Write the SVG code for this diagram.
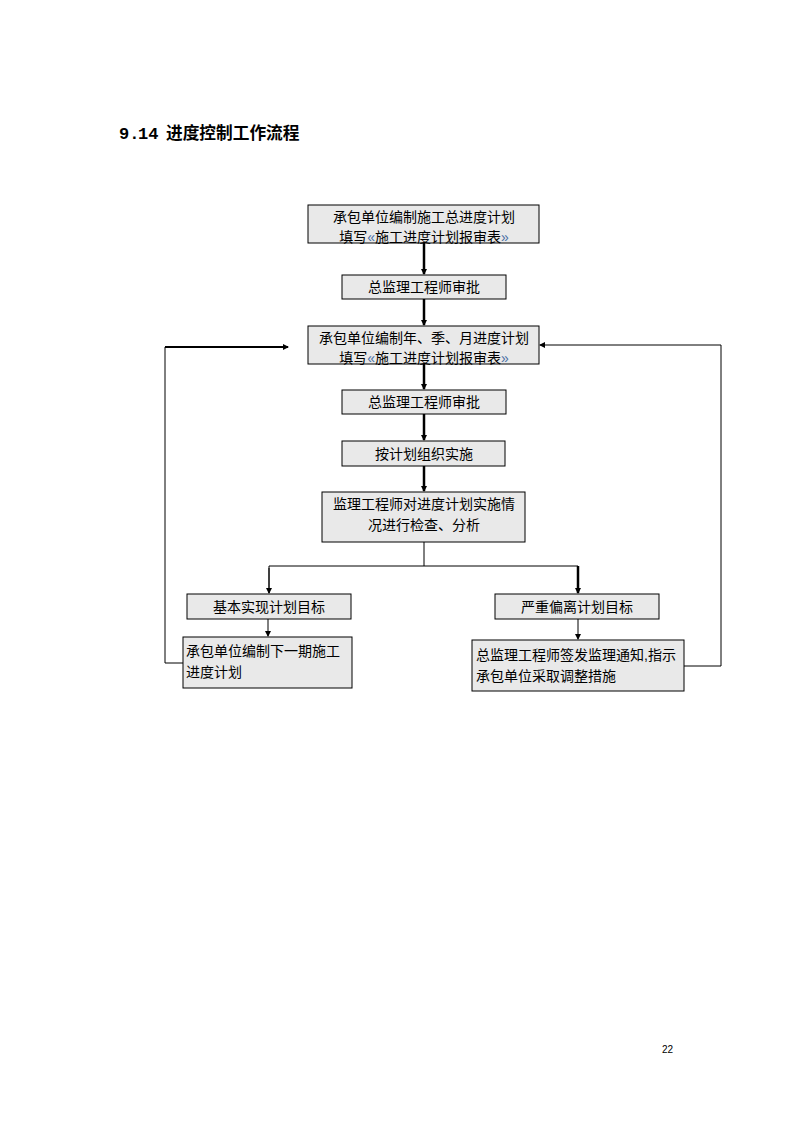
<svg xmlns="http://www.w3.org/2000/svg" width="794" height="1123" viewBox="0 0 794 1123">
<defs>
<style>
.box{fill:#e9e9e9;stroke:#000;stroke-width:1}
.t{font-family:"Liberation Sans","Noto Sans CJK SC",sans-serif;font-size:14px;fill:#000}
.c{text-anchor:middle}
.ln{fill:none;stroke:#000;stroke-width:1}
.th{fill:none;stroke:#000;stroke-width:2.5}
.q{fill:#4a6fa5}
.ttl{font-family:"Liberation Mono","Noto Sans CJK SC",monospace;font-size:17px;font-weight:bold;fill:#000}
</style>
<marker id="ah" markerWidth="6" markerHeight="6" refX="5" refY="3" orient="auto" markerUnits="userSpaceOnUse">
<path d="M0,0 L6,3 L0,6 z" fill="#000"/>
</marker>
</defs>
<rect width="794" height="1123" fill="#fff"/>
<g id="title">
<text class="ttl" x="119" y="139">9.</text>
<text class="ttl" x="138" y="139">14</text>
<text x="166" y="139" style="font-family:'Noto Sans CJK SC',sans-serif;font-size:16.7px;font-weight:bold">进度控制工作流程</text>
</g>

<g id="connectors">
<line class="th" x1="424" y1="243" x2="424" y2="274" marker-end="url(#ah)"/>
<line class="th" x1="424" y1="299" x2="424" y2="325" marker-end="url(#ah)"/>
<line class="th" x1="424" y1="364" x2="424" y2="389" marker-end="url(#ah)"/>
<line class="th" x1="424" y1="414" x2="424" y2="440" marker-end="url(#ah)"/>
<line class="th" x1="424" y1="466" x2="424" y2="491" marker-end="url(#ah)"/>
<line class="ln" x1="424" y1="542" x2="424" y2="566"/>
<polyline class="ln" points="269,593 269,566 578,566"/>
<line class="th" x1="578" y1="566" x2="578" y2="593" marker-end="url(#ah)"/>
<line class="ln" x1="269" y1="568" x2="269" y2="593" marker-end="url(#ah)"/>
<line class="ln" x1="268" y1="619" x2="268" y2="636" marker-end="url(#ah)"/>
<line class="ln" x1="578" y1="619" x2="578" y2="639" marker-end="url(#ah)"/>
<polyline class="ln" points="183,663 165,663 165,347"/>
<line x1="165" y1="347" x2="288" y2="347" stroke="#000" stroke-width="2" marker-end="url(#ah)"/>
<polyline class="ln" points="684,666 721,666 721,345 540,345" marker-end="url(#ah)"/>
</g>

<g id="n1"><rect class="box" x="308" y="205" width="231" height="38"/>
<text class="t c" x="424" y="222">承包单位编制施工总进度计划</text>
<text class="t c" x="424" y="242">填写<tspan class="q">«</tspan>施工进度计划报审表<tspan class="q">»</tspan></text></g>

<g id="n2"><rect class="box" x="342" y="275" width="164" height="24"/>
<text class="t c" x="424" y="292">总监理工程师审批</text></g>

<g id="n3"><rect class="box" x="308" y="326" width="231" height="38"/>
<text class="t c" x="424" y="343">承包单位编制年、季、月进度计划</text>
<text class="t c" x="424" y="363">填写<tspan class="q">«</tspan>施工进度计划报审表<tspan class="q">»</tspan></text></g>

<g id="n4"><rect class="box" x="342" y="390" width="164" height="24"/>
<text class="t c" x="424" y="407">总监理工程师审批</text></g>

<g id="n5"><rect class="box" x="342" y="441" width="163" height="25"/>
<text class="t c" x="424" y="459">按计划组织实施</text></g>

<g id="n6"><rect class="box" x="322" y="492" width="203" height="50"/>
<text class="t c" x="424" y="509">监理工程师对进度计划实施情</text>
<text class="t c" x="424" y="530">况进行检查、分析</text></g>

<g id="n7"><rect class="box" x="187" y="594" width="164" height="25"/>
<text class="t c" x="269" y="612">基本实现计划目标</text></g>

<g id="n8"><rect class="box" x="183" y="637" width="169" height="51"/>
<text class="t" x="186" y="656">承包单位编制下一期施工</text>
<text class="t" x="186" y="677">进度计划</text></g>

<g id="n9"><rect class="box" x="495" y="594" width="164" height="25"/>
<text class="t c" x="577" y="612">严重偏离计划目标</text></g>

<g id="n10"><rect class="box" x="472" y="640" width="212" height="51"/>
<text class="t" x="476" y="660">总监理工程师签发监理通知,指示</text>
<text class="t" x="476" y="681">承包单位采取调整措施</text></g>

<text x="662" y="1053" style="font-family:'Liberation Sans',sans-serif;font-size:10px">22</text>
</svg>
